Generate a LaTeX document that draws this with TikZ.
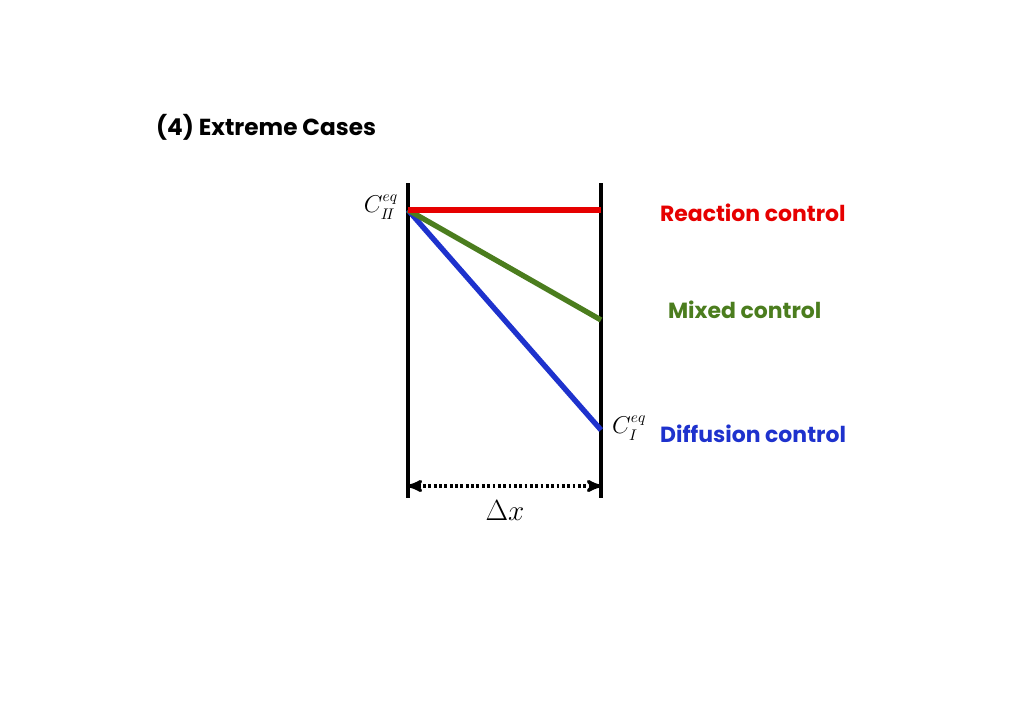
\documentclass[tikz,border=0pt]{standalone}
\usepackage{amsmath}
\usepackage{fontspec}
\setmainfont{Poppins}
\usepackage{tikz}
\usetikzlibrary{arrows}
\usepackage{color}
\definecolor{rxred}{RGB}{230,0,0}
\definecolor{mixgreen}{RGB}{75,125,30}
\definecolor{difblue}{RGB}{30,50,205}

\begin{document}
\begin{tikzpicture}[x=0.025cm,y=-0.025cm,line width=2pt,
  wall/.style={black,line width=2.2pt},
  profile/.style={line width=3.8pt},
  ctrl label/.style={font=\fontsize{15.6}{18}\selectfont\bfseries,anchor=west},
  conc/.style={font=\fontsize{16}{19}\selectfont}]

  \useasboundingbox (0,0) rectangle (1024,724);

  \node[font=\fontsize{16.5}{19}\selectfont\bfseries,anchor=west] (title) at (150,127) {(4) Extreme Cases};

  \coordinate (lt) at (408,183);
  \coordinate (lb) at (408,498);
  \coordinate (rt) at (601,183);
  \coordinate (rb) at (601,498);
  \coordinate (c2) at (408,210);
  \coordinate (rr) at (601,210);
  \coordinate (rg) at (601,320);
  \coordinate (rbl) at (601,430);
  \coordinate (dl) at (408,486);
  \coordinate (dr) at (601,486);

  \draw[wall] (lt) -- (lb);
  \draw[wall] (rt) -- (rb);

  \draw[profile,difblue] (c2) -- (rbl);
  \draw[profile,mixgreen] (c2) -- (rg);
  \draw[profile,rxred] (c2) -- (rr);

  \draw[<->,>=stealth',line width=2.3pt,dash pattern=on 2pt off 1.8pt] (dl) -- (dr);

  \node[conc,anchor=east] (cII) at (404,207) {$C_{I\!I}^{eq}$};
  \node[conc,anchor=west] (cI) at (606,428) {$C_{I}^{eq}$};
  \node[font=\fontsize{21}{25}\selectfont] (dx) at (505,511) {$\Delta x$};

  \node[ctrl label,text=rxred] (react) at (654,213) {Reaction control};
  \node[ctrl label,text=mixgreen] (mixed) at (662,310) {Mixed control};
  \node[ctrl label,text=difblue] (diff) at (654,434) {Diffusion control};
\end{tikzpicture}
\end{document}
